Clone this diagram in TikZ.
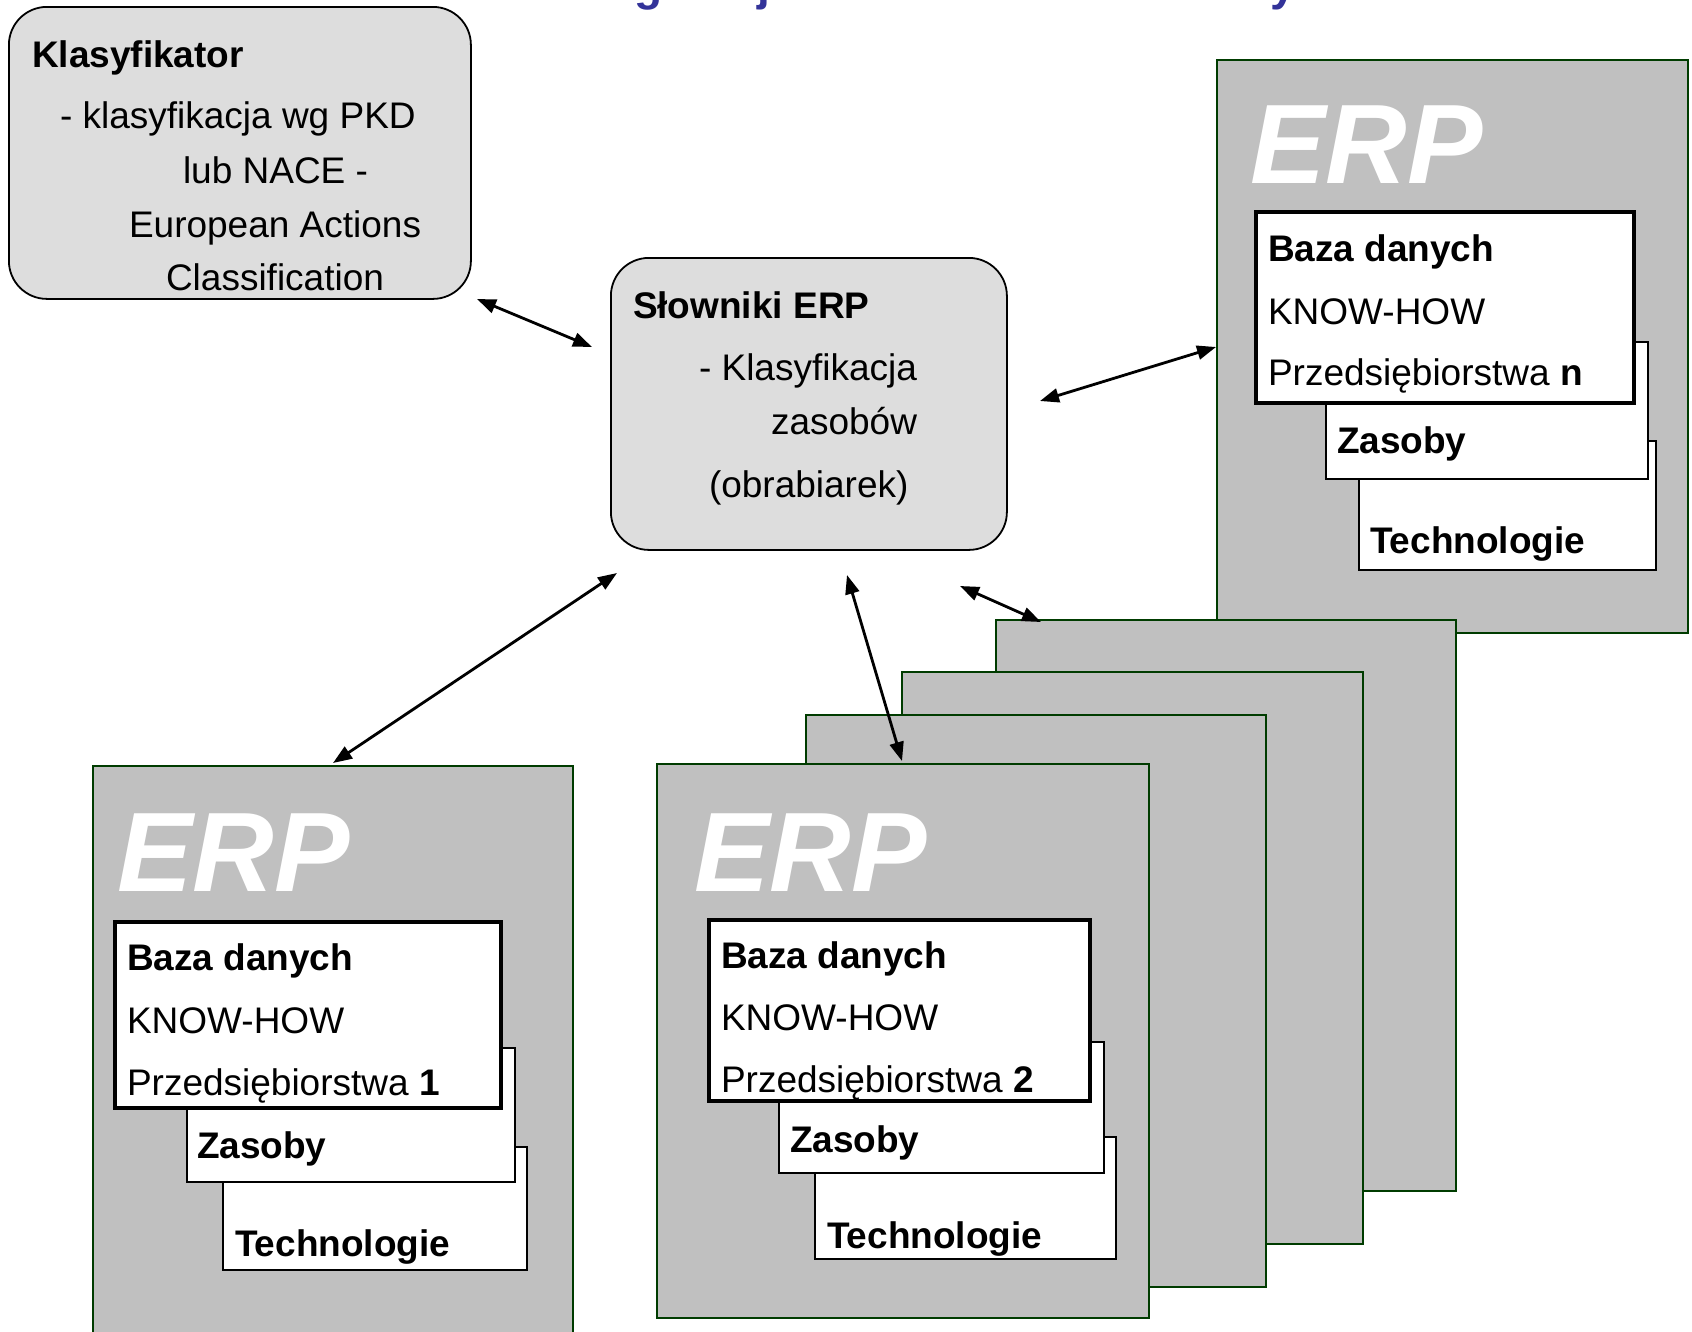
\documentclass[tikz,border=0pt]{standalone}
\usepackage{fontspec}
\setmainfont{Liberation Sans}
\usetikzlibrary{arrows.meta}
\definecolor{boxgray}{RGB}{221,221,221}
\definecolor{panelgray}{RGB}{192,192,192}
\definecolor{panelline}{RGB}{0,60,0}
\definecolor{titleblue}{RGB}{51,51,153}
\begin{document}
\begin{tikzpicture}[x=1pt,y=-1pt,
  txt/.style={anchor=base west, inner sep=0pt, outer sep=0pt, font=\fontsize{37}{44}\selectfont},
  btxt/.style={anchor=base west, inner sep=0pt, outer sep=0pt, font=\fontsize{37}{44}\selectfont\bfseries},
  roundbox/.style={draw=black, line width=1.8pt, fill=boxgray, rounded corners=38pt, anchor=north west, inner sep=0pt},
  panel/.style={draw=panelline, line width=2pt, fill=panelgray, anchor=north west, inner sep=0pt},
  erplogo/.style={anchor=base west, inner sep=0pt, text=white, font=\fontsize{113}{120}\selectfont\bfseries\itshape},
  dbbox/.style={draw=black, line width=4pt, fill=white, anchor=north west, inner sep=0pt},
  subbox/.style={draw=black, line width=2.4pt, fill=white, anchor=north west, inner sep=0pt},
  titleglyph/.style={anchor=base west, inner sep=0pt, text=titleblue, font=\fontsize{46}{50}\selectfont\bfseries},
  link/.style={line width=2.8pt, {Triangle[length=19pt,width=14pt]}-{Triangle[length=19pt,width=14pt]}},
]
\useasboundingbox (0,0) rectangle (1692,1331);
\clip (0,0) rectangle (1692,1331);

% heading line running above the page edge (only its descenders remain)
\node[titleglyph] (tg) at (634,0) {g};
\node[titleglyph] (tj) at (757,0) {j};
\node[titleglyph] (ty) at (1270,0) {y};

% classifier box
\node[roundbox, minimum width=462pt, minimum height=292pt] (klas) at (8,6) {};
\node[btxt] (klas-t) at (32,67) {Klasyfikator};
\node[txt] (klas-1) at (60,128) {- klasyfikacja wg PKD};
\node[txt] (klas-2) at (183,183) {lub NACE -};
\node[txt] (klas-3) at (129,237) {European Actions};
\node[txt] (klas-4) at (166,290) {Classification};

% dictionaries box
\node[roundbox, minimum width=396pt, minimum height=292pt] (slow) at (610,257) {};
\node[btxt] (slow-t) at (633,318) {Słowniki ERP};
\node[txt] (slow-1) at (699,380) {- Klasyfikacja};
\node[txt] (slow-2) at (771,434) {zasobów};
\node[txt] (slow-3) at (709,497) {(obrabiarek)};

% enterprise n
\node[panel, minimum width=471pt, minimum height=573pt] (erpn) at (1216,59) {};
\node[erplogo] (erpn-logo) at (1250,183) {ERP};
\node[subbox, minimum width=297pt, minimum height=129pt] (erpn-tech) at (1358,440) {};
\node[btxt] at (1370,553) {Technologie};
\node[subbox, minimum width=322pt, minimum height=137pt] (erpn-zas) at (1325,341) {};
\node[btxt] at (1337,453) {Zasoby};
\node[dbbox, minimum width=378pt, minimum height=191pt] (erpn-db) at (1254,210) {};
\node[btxt] at (1268,261) {Baza danych};
\node[txt] at (1268,324) {KNOW-HOW};
\node[txt] at (1268,385) {Przedsiębiorstwa \textbf{n}};

% stack of further enterprises
\node[panel, minimum width=460pt, minimum height=571pt] (back1) at (995,619) {};
\node[panel, minimum width=461pt, minimum height=572pt] (back2) at (901,671) {};
\node[panel, minimum width=460pt, minimum height=572pt] (back3) at (805,714) {};

% enterprise 2
\node[panel, minimum width=492pt, minimum height=554pt] (erp2) at (656,763) {};
\node[erplogo] (erp2-logo) at (694,891) {ERP};
\node[subbox, minimum width=301pt, minimum height=122pt] (erp2-tech) at (814,1136) {};
\node[btxt] at (827,1248) {Technologie};
\node[subbox, minimum width=325pt, minimum height=131pt] (erp2-zas) at (778,1041) {};
\node[btxt] at (790,1152) {Zasoby};
\node[dbbox, minimum width=381pt, minimum height=181pt] (erp2-db) at (707,918) {};
\node[btxt] at (721,968) {Baza danych};
\node[txt] at (721,1030) {KNOW-HOW};
\node[txt] at (721,1092) {Przedsiębiorstwa \textbf{2}};

% enterprise 1
\node[panel, minimum width=480pt, minimum height=600pt] (erp1) at (92,765) {};
\node[erplogo] (erp1-logo) at (117,891) {ERP};
\node[subbox, minimum width=304pt, minimum height=123pt] (erp1-tech) at (222,1146) {};
\node[btxt] at (235,1256) {Technologie};
\node[subbox, minimum width=328pt, minimum height=134pt] (erp1-zas) at (186,1047) {};
\node[btxt] at (197,1158) {Zasoby};
\node[dbbox, minimum width=386pt, minimum height=186pt] (erp1-db) at (113,920) {};
\node[btxt] at (127,970) {Baza danych};
\node[txt] at (127,1033) {KNOW-HOW};
\node[txt] at (127,1095) {Przedsiębiorstwa \textbf{1}};

% connector end points
\coordinate (k-end) at (477,299);
\coordinate (s-k) at (592,347);
\coordinate (s-n) at (1040,401);
\coordinate (n-end) at (1216,347);
\coordinate (s-1) at (617,573);
\coordinate (p1-end) at (333,763);
\coordinate (s-2) at (847,575);
\coordinate (p2-end) at (902,761);
\coordinate (s-b) at (960,586);
\coordinate (b-end) at (1041,622);

\draw[link] (k-end) -- (s-k);
\draw[link] (s-n) -- (n-end);
\draw[link] (s-1) -- (p1-end);
\draw[link] (s-2) -- (p2-end);
\draw[link] (s-b) -- (b-end);
\end{tikzpicture}
\end{document}
